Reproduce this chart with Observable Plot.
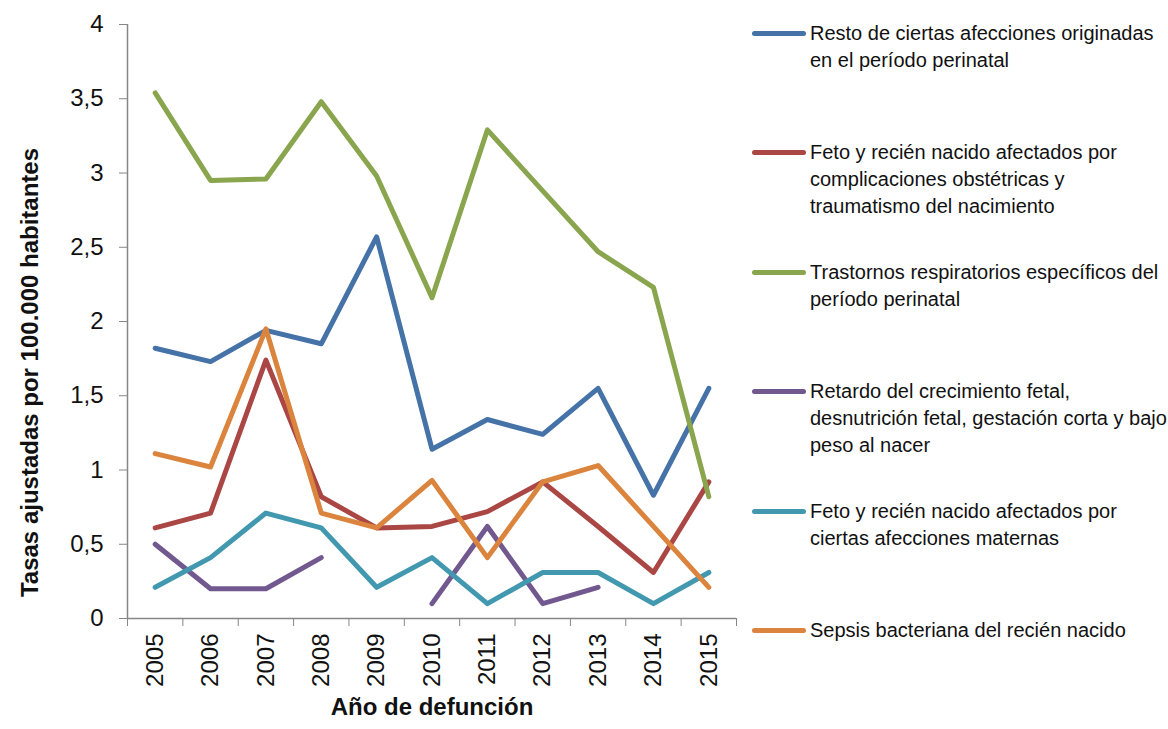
<!DOCTYPE html>
<html><head><meta charset="utf-8">
<script src="https://cdn.jsdelivr.net/npm/d3@7"></script>
<script src="https://cdn.jsdelivr.net/npm/@observablehq/plot@0.6"></script>
<style>
body{margin:0;background:#fff;font-family:"Liberation Sans",Arial,sans-serif;}
#wrap{position:relative;width:1168px;height:729px;overflow:hidden;}
#chart{position:absolute;left:0;top:0;}
#legend{position:absolute;left:752px;top:19.5px;}
.item{display:flex;align-items:flex-start;height:119.6px;}
.sw{width:54px;height:5px;border-radius:3px;margin-top:11px;margin-right:4px;flex:none;}
.lbl{font-size:20px;line-height:27px;color:#111;white-space:pre-line;}
</style></head>
<body>
<div id="wrap"><div id="chart"></div><div id="legend"></div></div>
<script>
const years = [2005,2006,2007,2008,2009,2010,2011,2012,2013,2014,2015];
const seriesNames = [
  "Resto de ciertas afecciones originadas\nen el período perinatal",
  "Feto y recién nacido afectados por\ncomplicaciones obstétricas y\ntraumatismo del nacimiento",
  "Trastornos respiratorios específicos del\nperíodo perinatal",
  "Retardo del crecimiento fetal,\ndesnutrición fetal, gestación corta y bajo\npeso al nacer",
  "Feto y recién nacido afectados por\nciertas afecciones maternas",
  "Sepsis bacteriana del recién nacido"
];
const colors = ["#4572A7","#AA4643","#89A54E","#71588F","#4198AF","#DB843D"];
const resto    = [1.82,1.73,1.94,1.85,2.57,1.14,1.34,1.24,1.55,0.83,1.55];
const complic  = [0.61,0.71,1.74,0.82,0.61,0.62,0.72,0.92,0.62,0.31,0.92];
const respir   = [3.54,2.95,2.96,3.48,2.98,2.16,3.29,2.88,2.47,2.23,0.82];
const retardo  = [0.50,0.20,0.20,0.41,null,0.10,0.62,0.10,0.21,null,null];
const maternas = [0.21,0.41,0.71,0.61,0.21,0.41,0.10,0.31,0.31,0.10,0.31];
const sepsis   = [1.11,1.02,1.95,0.71,0.61,0.93,0.41,0.92,1.03,0.62,0.21];
const yTicks = [0,0.5,1,1.5,2,2.5,3,3.5,4];
const yTitle = "Tasas ajustadas por 100.000 habitantes";
const xTitle = "Año de defunción";

const allSeries = [resto, complic, respir, retardo, maternas, sepsis];
const data = [];
allSeries.forEach((vals, i) => vals.forEach((v, j) => data.push({series: seriesNames[i], year: years[j], value: v == null ? NaN : v})));
const bounds = [years[0] - 0.5, ...years.map(y => y + 0.5)];
const fontFam = '"Liberation Sans", Arial, sans-serif';

const chart = Plot.plot({
  width: 745, height: 729,
  marginLeft: 127, marginRight: 9, marginTop: 24, marginBottom: 111,
  style: {fontFamily: fontFam, fontSize: "24px", color: "#111", background: "#fff"},
  x: {type: "linear", domain: [bounds[0], bounds[bounds.length - 1]]},
  y: {domain: [0, 4]},
  color: {domain: seriesNames, range: colors},
  marks: [
    Plot.ruleX([bounds[0]], {stroke: "#868686", strokeWidth: 1.5}),
    Plot.ruleY([0], {stroke: "#868686", strokeWidth: 1.5}),
    Plot.axisY({ticks: yTicks, tickFormat: d => String(d).replace(".", ","), tickSize: 8, tickPadding: 16, stroke: "#868686", fill: "#111", fontSize: 24, label: null}),
    Plot.axisX({ticks: bounds, tickFormat: () => "", tickSize: 8, stroke: "#868686", label: null}),
    Plot.axisX({ticks: years, tickFormat: d => String(d), tickSize: 0, tickPadding: 15, tickRotate: -90, fill: "#111", fontSize: 24, label: null}),
    Plot.lineY(data, {x: "year", y: "value", z: "series", stroke: "series", strokeWidth: 5, strokeLinejoin: "round", strokeLinecap: "round"}),
    Plot.text([yTitle], {frameAnchor: "left", textAnchor: "middle", rotate: -90, dx: -97, dy: 51, fontWeight: "bold", fontSize: 24, fill: "#111"}),
    Plot.text([xTitle], {frameAnchor: "bottom", dy: 96, fontWeight: "bold", fontSize: 24, fill: "#111"})
  ]
});
document.getElementById("chart").appendChild(chart);

const legend = document.getElementById("legend");
seriesNames.forEach((name, i) => {
  const item = document.createElement("div");
  item.className = "item";
  const sw = document.createElement("div");
  sw.className = "sw";
  sw.style.background = colors[i];
  const lbl = document.createElement("div");
  lbl.className = "lbl";
  lbl.textContent = name;
  item.appendChild(sw); item.appendChild(lbl);
  legend.appendChild(item);
});
</script>
</body></html>
